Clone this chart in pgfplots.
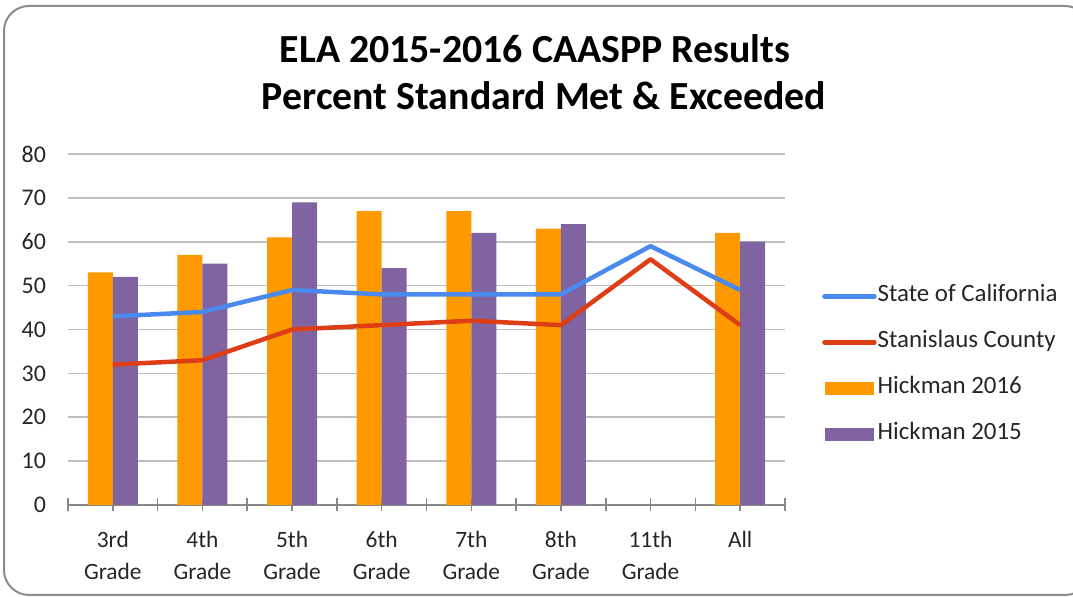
\documentclass[border=0pt]{standalone}
\usepackage{fontspec}
\setmainfont{Carlito}
\usepackage{pgfplots}
\pgfplotsset{compat=1.18}
\definecolor{cablue}{HTML}{4A8AEE}
\definecolor{cored}{HTML}{DD3E16}
\definecolor{horange}{HTML}{FF9900}
\definecolor{hpurple}{HTML}{8064A2}
\definecolor{gridgray}{HTML}{BFBFBF}
\definecolor{axisgray}{HTML}{888888}
\definecolor{bordergray}{HTML}{8C8C8C}
\begin{document}
\begin{tikzpicture}[x=1bp,y=1bp]
\useasboundingbox (0,0) rectangle (1073,597);
\draw[bordergray, line width=2bp, rounded corners=25bp] (4,2) rectangle (1090,591);
\node[font=\fontsize{40}{47}\selectfont\bfseries, anchor=base] at (535,534) {ELA 2015-2016 CAASPP Results};
\node[font=\fontsize{40}{47}\selectfont\bfseries, anchor=base] at (544,487) {Percent Standard Met \& Exceeded};
\begin{axis}[
  at={(68bp,92bp)}, anchor=south west, scale only axis,
  width=717bp, height=351bp,
  xmin=-0.5, xmax=7.5, ymin=0, ymax=80,
  ytick={0,10,...,80}, ymajorgrids,
  major grid style={draw=gridgray, line width=1.6bp},
  axis x line*=bottom, axis y line*=left,
  y axis line style={draw=none},
  x axis line style={draw=axisgray, line width=2bp},
  ytick style={draw=none},
  xtick={0,...,7},
  xticklabels={3rd\\Grade,4th\\Grade,5th\\Grade,6th\\Grade,7th\\Grade,8th\\Grade,11th\\Grade,All},
  extra x ticks={-0.5,0.5,...,7.5},
  extra x tick labels={},
  extra x tick style={grid=none},
  xtick style={draw=axisgray, line width=1.6bp},
  tick align=center, major tick length=13bp,
  /pgf/number format/assume math mode=true,
  yticklabel style={font=\fontsize{24}{28}\selectfont, text=black!85, xshift=-12bp},
  xticklabel style={font=\fontsize{23.5}{32}\selectfont, text=black!85, align=center, yshift=-16bp},
  legend cell align=left,
  legend style={at={(1.0516,0.398)}, anchor=west, draw=none, fill=none,
    font=\fontsize{25}{28}\selectfont, text=black!85, row sep=21bp, inner sep=0pt,
    nodes={inner sep=1bp, text height=17bp, text depth=6bp}},
]
\addlegendimage{legend image code/.code={\draw[cablue, line width=4.5bp, line cap=round] (0bp,0bp) -- (50bp,0bp);}}
\addlegendentry{State of California}
\addlegendimage{legend image code/.code={\draw[cored, line width=4.5bp, line cap=round] (0bp,0bp) -- (50bp,0bp);}}
\addlegendentry{Stanislaus County}
\addlegendimage{legend image code/.code={\fill[horange] (1bp,-6bp) rectangle (49bp,6bp);}}
\addlegendentry{Hickman 2016}
\addlegendimage{legend image code/.code={\fill[hpurple] (1bp,-6bp) rectangle (49bp,6bp);}}
\addlegendentry{Hickman 2015}
% Hickman 2016
\addplot[ybar, bar width=25bp, bar shift=-12.5bp, fill=horange, draw=none, forget plot]
  coordinates {(0,53) (1,57) (2,61) (3,67) (4,67) (5,63) (7,62)};
% Hickman 2015
\addplot[ybar, bar width=25bp, bar shift=12.5bp, fill=hpurple, draw=none, forget plot]
  coordinates {(0,52) (1,55) (2,69) (3,54) (4,62) (5,64) (7,60)};
% State of California
\addplot[cablue, line width=4.5bp, line join=round, mark=none, forget plot]
  coordinates {(0,43) (1,44) (2,49) (3,48) (4,48) (5,48) (6,59) (7,49)};
% Stanislaus County
\addplot[cored, line width=4.5bp, line join=round, mark=none, forget plot]
  coordinates {(0,32) (1,33) (2,40) (3,41) (4,42) (5,41) (6,56) (7,41)};
\end{axis}
\end{tikzpicture}
\end{document}
